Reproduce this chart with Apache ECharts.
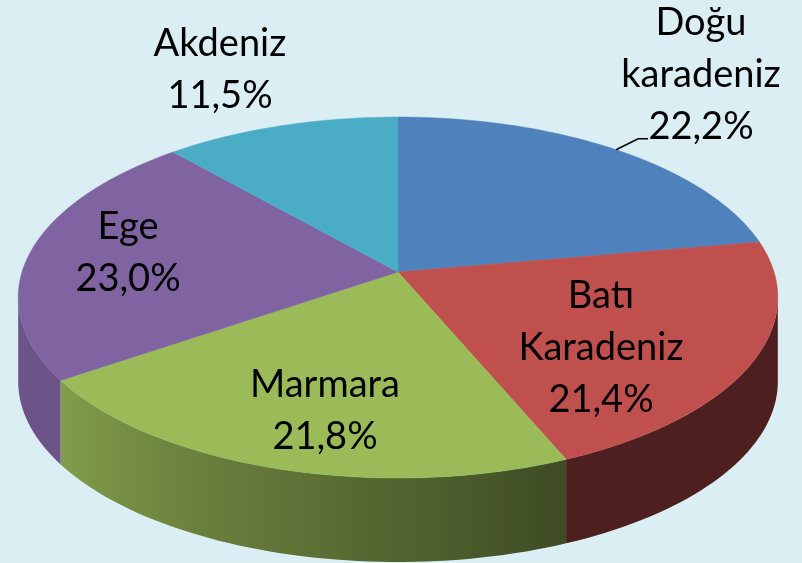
<!DOCTYPE html>
<html>
<head>
<meta charset="utf-8">
<script src="https://cdn.jsdelivr.net/npm/echarts@6/dist/echarts.min.js"></script>
<style>
  html, body { margin: 0; padding: 0; background: #dbeef4; }
  #chart { width: 802px; height: 563px; }
</style>
</head>
<body>
<div id="chart"></div>
<script>
// data
const regions = ['Doğu\nkaradeniz', 'Batı\nKaradeniz', 'Marmara', 'Ege', 'Akdeniz'];
const shares = [22.2, 21.4, 21.8, 23.0, 11.5];
const pctLabels = ['22,2%', '21,4%', '21,8%', '23,0%', '11,5%'];

// look
const topColors = ['#4f81bd', '#c0504d', '#9bbb59', '#8064a2', '#4bacc6'];
const labelAt = [[701, 75], [601, 348], [325, 411], [128, 253], [220, 70]];

// perspective ellipse
const CX = 398, CY = 272, RX = 376, RY = 176.9, K = 0.1413, DEPTH = 84;
const EDGE = Math.asin(K) * 180 / Math.PI;
const VIS = [180 + EDGE, 360 - EDGE];

const total = shares.reduce((a, b) => a + b, 0);
const starts = [];
let acc = 0;
shares.forEach(v => { starts.push(acc); acc += v; });

const proj = (r, deg, dy) => {
    const t = deg * Math.PI / 180;
    const u = r * Math.cos(t), v = r * Math.sin(t), d = 1 + K * v;
    return [CX + RX * u / d, CY - RY * v / d + (dy || 0)];
};

const arc = (a, b, dy) => {
    const pts = [];
    const n = Math.max(8, Math.ceil(Math.abs(b - a) / 1.5));
    for (let i = 0; i <= n; i++) pts.push(proj(1, a + (b - a) * i / n, dy));
    return pts;
};

const shadeFactor = deg => {
    if (deg <= 215) return 0.84;
    if (deg >= 290) return 0.40;
    return 0.84 - (deg - 215) / 75 * 0.42;
};

const shade = (hex, f) => {
    const n = parseInt(hex.slice(1), 16);
    const r = Math.round(((n >> 16) & 255) * f);
    const g = Math.round(((n >> 8) & 255) * f);
    const b = Math.round((n & 255) * f);
    return 'rgb(' + r + ',' + g + ',' + b + ')';
};

// visible part of the front wall for the slice [lo, hi] (degrees)
const visiblePart = (lo, hi) => {
    for (const off of [-360, 0, 360]) {
        const a = Math.max(lo + off, VIS[0]);
        const b = Math.min(hi + off, VIS[1]);
        if (b > a) return [a, b];
    }
    return null;
};

const renderItem = (params, api) => {
    const i = params.dataIndex;
    const val = api.value(0);
    const a1 = 90 - starts[i] / total * 360;
    const a2 = a1 - val / total * 360;
    const children = [];

    // top face
    children.push({
        type: 'polygon',
        shape: { points: [[CX, CY]].concat(arc(a1, a2, 0)) },
        style: { fill: topColors[i], stroke: topColors[i], lineWidth: 0.5 },
        z2: 10
    });

    // front wall
    const part = visiblePart(a2, a1);
    if (part) {
        const [lo, hi] = part;
        const x0 = proj(1, lo)[0], x1 = proj(1, hi)[0];
        const stops = [];
        for (let s = 0; s <= 6; s++) {
            const d = lo + (hi - lo) * s / 6;
            stops.push({ offset: (proj(1, d)[0] - x0) / (x1 - x0), color: shade(topColors[i], shadeFactor(d)) });
        }
        const pts = arc(lo, hi, 0).concat(arc(hi, lo, DEPTH));
        children.push({
            type: 'polygon',
            shape: { points: pts },
            style: { fill: new echarts.graphic.LinearGradient(x0, 0, x1, 0, stops, true) },
            z2: 5
        });
    }

    // label
    const [lx, ly] = labelAt[i];
    children.push({
        type: 'text',
        x: lx, y: ly,
        style: {
            text: regions[i] + '\n' + pctLabels[i],
            fontFamily: 'Lato, "Noto Sans", sans-serif',
            fontSize: 38,
            lineHeight: 52,
            fill: '#000',
            align: 'center',
            verticalAlign: 'middle'
        },
        z2: 30
    });

    // leader line for the label that sits outside the slice
    if (i === 0) {
        const p = proj(1, 50);
        children.push({
            type: 'polyline',
            shape: { points: [p, [p[0] + 22, p[1] - 11], [p[0] + 32, p[1] - 11]] },
            style: { stroke: '#000', lineWidth: 1.5, fill: null },
            z2: 30
        });
    }

    return { type: 'group', children: children };
};

const chart = echarts.init(document.getElementById('chart'));
chart.setOption({
    backgroundColor: '#dbeef4',
    animation: false,
    series: [{
        type: 'custom',
        coordinateSystem: 'none',
        renderItem: renderItem,
        data: shares.map(v => [v])
    }]
});
</script>
</body>
</html>
